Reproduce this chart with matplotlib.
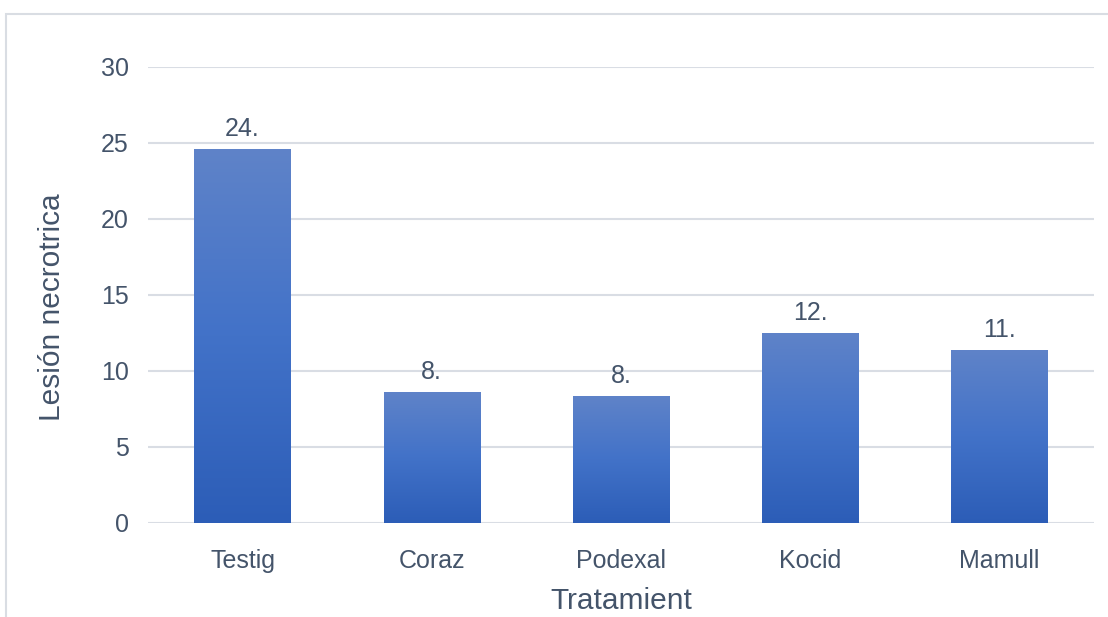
import matplotlib
matplotlib.use("Agg")
import matplotlib.pyplot as plt
import numpy as np
from matplotlib.colors import LinearSegmentedColormap
from matplotlib.patches import Rectangle

categories = ["Testig", "Coraz", "Podexal", "Kocid", "Mamull"]
values = [24.6, 8.6, 8.35, 12.5, 11.35]
labels = ["24.", "8.", "8.", "12.", "11."]
yticks = [0, 5, 10, 15, 20, 25, 30]
xlabel = "Tratamient"
ylabel = "Lesión necrotrica"

text_color = "#44546a"
grid_color = "#d9dde4"

plt.rcParams['font.family'] = ['Liberation Sans', 'DejaVu Sans']

fig = plt.figure(figsize=(11.08, 6.17), dpi=100)
ax = fig.add_axes([148/1108, 1-523/617, (1094-148)/1108, (523-67)/617])

# outer frame
fig.patches.append(Rectangle((6/1108, -0.1), 1.2, 0.1 + 1 - 14/617,
                             transform=fig.transFigure, fill=False,
                             edgecolor="#d9dde3", linewidth=1.5, zorder=0))

x = np.arange(len(categories))
bars = ax.bar(x, values, width=0.51, color="none", edgecolor="none", zorder=2)

cmap = LinearSegmentedColormap.from_list(
    "grad", [(0.0, "#2c5db7"), (0.5, "#4272c8"), (1.0, "#5f83c9")])
grad = np.linspace(0, 1, 256).reshape(-1, 1)
for b in bars:
    x0, y0 = b.get_x(), b.get_y()
    w, h = b.get_width(), b.get_height()
    im = ax.imshow(grad, extent=[x0, x0 + w, y0, y0 + h], origin="lower",
                   cmap=cmap, aspect="auto", zorder=2, interpolation="bilinear")
    im.set_clip_path(b)

for xi, v, lab in zip(x, values, labels):
    ax.annotate(lab, (xi, v), xytext=(0, 6), textcoords="offset points",
                ha="center", va="bottom", fontsize=18, color=text_color)

ax.set_xlim(-0.5, len(categories) - 0.5)
ax.set_ylim(0, 30)
ax.set_yticks(yticks)
ax.set_xticks(x)
ax.set_xticklabels(categories)
ax.tick_params(axis="both", length=0, labelsize=18, labelcolor=text_color)
ax.tick_params(axis="y", pad=14)
ax.tick_params(axis="x", pad=19)
ax.grid(axis="y", color=grid_color, linewidth=1.5, zorder=0)
ax.set_axisbelow(True)
for s in ax.spines.values():
    s.set_visible(False)

ax.set_xlabel(xlabel, fontsize=21.5, color=text_color)
ax.set_ylabel(ylabel, fontsize=21.5, color=text_color)
ax.xaxis.set_label_coords(0.5, (523 - 601) / 456, transform=ax.transAxes)
ax.xaxis.label.set_va("center")
ax.yaxis.set_label_coords((52 - 148) / 946, (523 - 307) / 456, transform=ax.transAxes)
ax.yaxis.label.set_va("center")

fig.savefig("out.png", dpi=100)
